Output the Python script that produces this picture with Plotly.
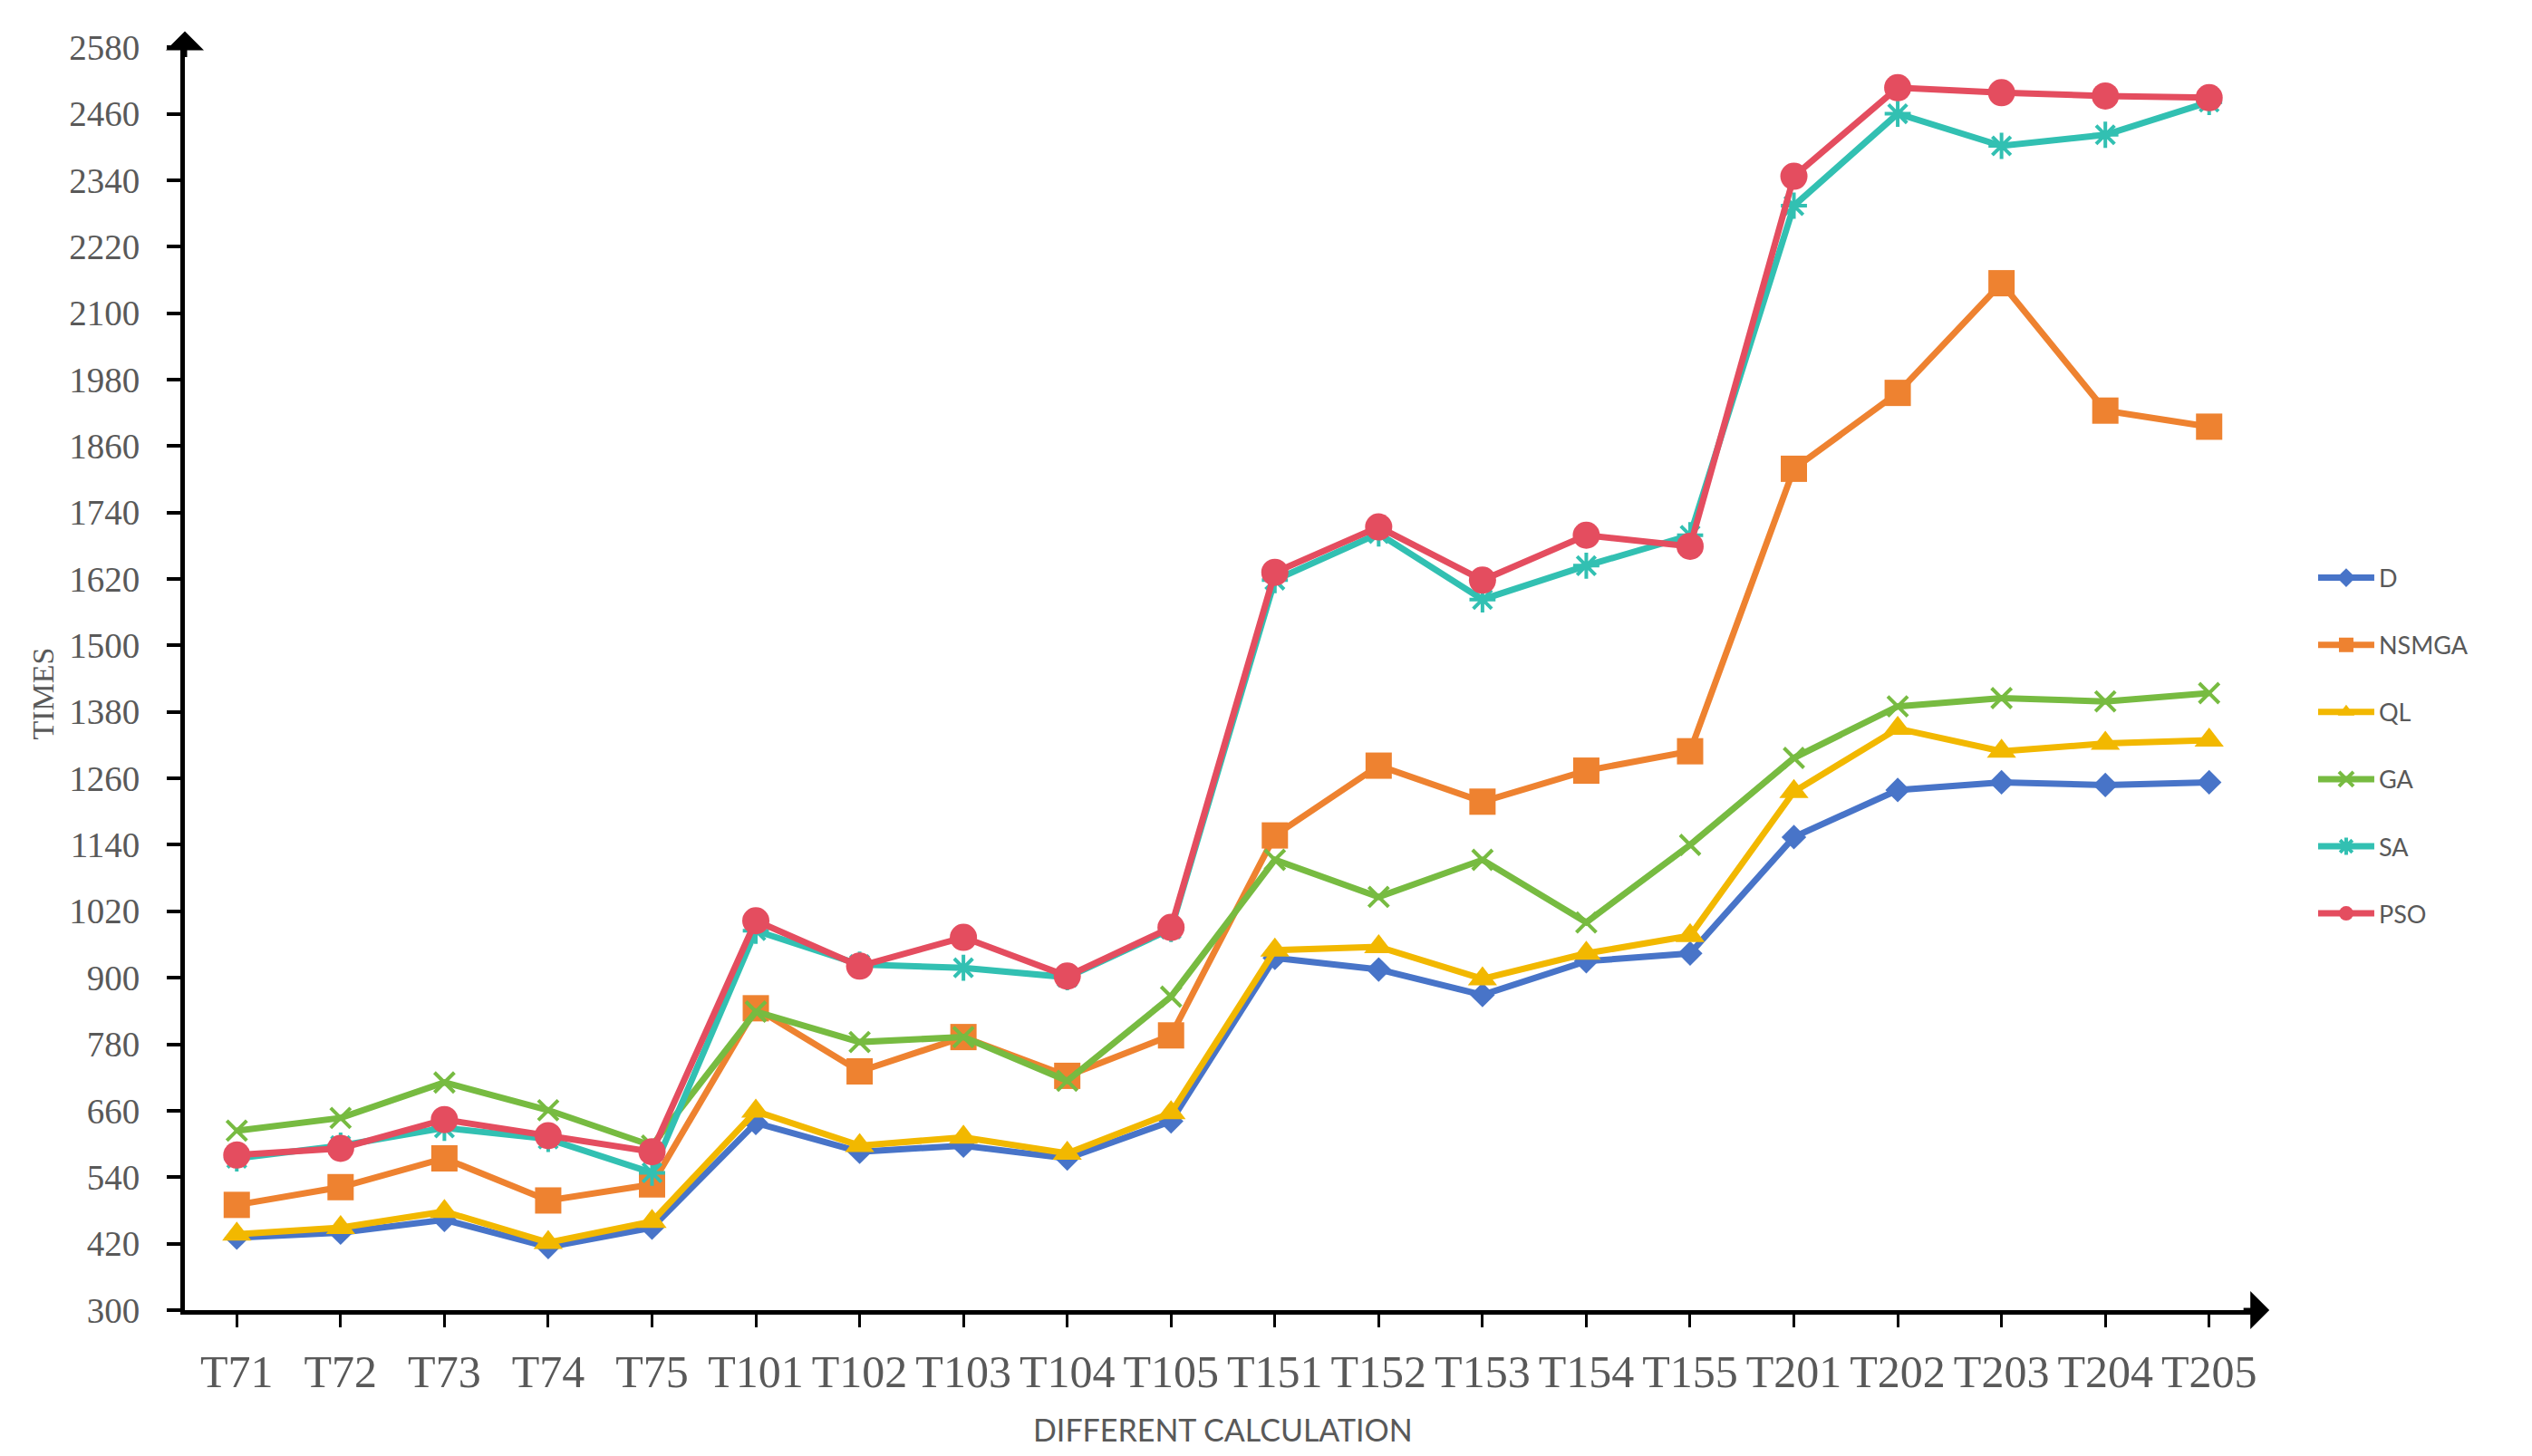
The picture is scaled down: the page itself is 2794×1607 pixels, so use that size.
import plotly.graph_objects as go

categories = ["T71", "T72", "T73", "T74", "T75", "T101", "T102", "T103", "T104", "T105",
              "T151", "T152", "T153", "T154", "T155", "T201", "T202", "T203", "T204", "T205"]

d_vals = [431, 440, 463, 414, 449, 638, 586, 597, 574, 641,
          936, 915, 869, 930, 944, 1154, 1239, 1253, 1248, 1253]
nsmga_vals = [490, 522, 574, 498, 527, 845, 731, 793, 723, 796,
              1157, 1283, 1218, 1274, 1309, 1819, 1956, 2154, 1924, 1895]
ql_vals = [437, 449, 478, 422, 460, 659, 597, 612, 583, 656,
           950, 956, 898, 944, 976, 1236, 1350, 1309, 1323, 1329]
ga_vals = [624, 647, 711, 661, 597, 839, 784, 793, 714, 866,
           1113, 1046, 1113, 1000, 1140, 1297, 1390, 1405, 1399, 1414]
sa_vals = [574, 597, 629, 609, 548, 985, 924, 918, 901, 988,
           1618, 1702, 1583, 1644, 1699, 2294, 2460, 2402, 2422, 2481]
pso_vals = [580, 592, 644, 615, 586, 1003, 921, 973, 903, 991,
            1632, 1714, 1618, 1699, 1679, 2347, 2507, 2498, 2492, 2489]

y_ticks = list(range(300, 2581, 120))

series = [
    ("D", d_vals, "#4874C8", dict(symbol="diamond", size=21)),
    ("NSMGA", nsmga_vals, "#EE8230", dict(symbol="square", size=29)),
    ("QL", ql_vals, "#F2B800", dict(symbol="triangle-up", size=28)),
    ("GA", ga_vals, "#77BB41", dict(symbol="x-thin-open", size=22, line=dict(width=4, color="#77BB41"))),
    ("SA", sa_vals, "#32C0B2", dict(symbol="asterisk-open", size=24, line=dict(width=4, color="#32C0B2"))),
    ("PSO", pso_vals, "#E44D5F", dict(symbol="circle", size=30)),
]

fig = go.Figure()
for name, vals, color, mk in series:
    mk = dict(mk)
    mk["color"] = color
    fig.add_trace(go.Scatter(
        x=categories, y=vals, mode="lines+markers", name=name,
        line=dict(color=color, width=7), marker=mk, legendgroup=name,
    ))

fig.update_layout(
    width=2794, height=1607,
    paper_bgcolor="white", plot_bgcolor="white",
    margin=dict(l=196, r=307, t=35, b=169),
    showlegend=True,
    legend=dict(x=1.0253, xanchor="left", y=0.444, yanchor="middle",
                font=dict(family="Lato", size=27, color="#595959"),
                tracegroupgap=36, itemwidth=62),
    xaxis=dict(type="category", range=[-0.5, 19.5], showline=True, linecolor="black", linewidth=5,
               ticks="outside", ticklen=14, tickwidth=3, tickcolor="black",
               tickfont=dict(family="Liberation Serif", size=50, color="#595959"),
               ticklabelstandoff=6, showgrid=False, zeroline=False),
    yaxis=dict(range=[300, 2595], tickvals=y_ticks, showline=True, linecolor="black", linewidth=5,
               ticks="outside", ticklen=15, tickwidth=4, tickcolor="black",
               tickfont=dict(family="Liberation Serif", size=39, color="#595959"),
               ticklabelstandoff=22, showgrid=False, zeroline=False),
    annotations=[
        dict(text="DIFFERENT CALCULATION", xref="paper", yref="paper", x=0.5, y=-0.094,
             showarrow=False, font=dict(family="Lato", size=34, color="#595959"),
             xanchor="center", yanchor="middle"),
        dict(text="TIMES", xref="paper", yref="paper", x=-0.0685, y=0.485, textangle=-90,
             showarrow=False, font=dict(family="Liberation Serif", size=34, color="#595959"),
             xanchor="center", yanchor="middle"),
        dict(text="", xref="paper", yref="paper", x=0, y=1.006, ax=0, ay=30,
             showarrow=True, arrowhead=1, arrowsize=1.4, arrowwidth=5, arrowcolor="black"),
        dict(text="", xref="paper", yref="paper", x=1.004, y=0, ax=-30, ay=0,
             showarrow=True, arrowhead=1, arrowsize=1.4, arrowwidth=5, arrowcolor="black"),
    ],
)

fig.write_html("out.html")
